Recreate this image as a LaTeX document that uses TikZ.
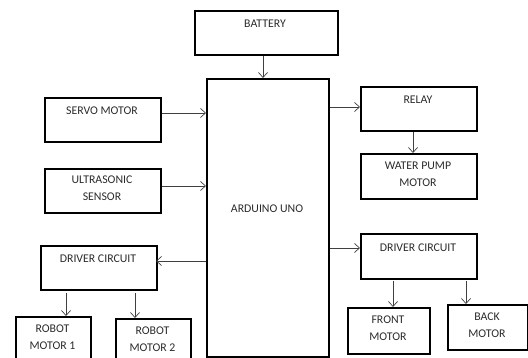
\documentclass[tikz,border=0pt]{standalone}
\usepackage{fontspec}
\setmainfont{Carlito}
\usetikzlibrary{arrows.meta}
\definecolor{txt}{HTML}{2B2B2B}
\definecolor{ln}{HTML}{404040}
\tikzset{
  box/.style={draw=black, line width=1.6pt, rectangle, inner sep=0pt, anchor=north west},
  lbl/.style={font=\fontsize{11.8}{17}\selectfont, text=txt, align=center, anchor=center, inner sep=0pt},
  conn/.style={draw=ln, line width=0.8pt, -{Straight Barb[length=5pt,width=9pt,line width=0.7pt]}}
}
\newcommand{\mybox}[5]{%
  \node[box, minimum width={(#4-#2)*1pt}, minimum height={(#5-#3)*1pt}] (#1) at (#2,#3) {};}
\begin{document}
\begin{tikzpicture}[x=1pt,y=-1pt]
\useasboundingbox (0,0) rectangle (528,358);
\clip (0,0) rectangle (528,358);
\mybox{bat}{194}{10}{337}{54}
\mybox{ard}{206}{78}{328}{356}
\mybox{servo}{44}{97}{160}{141}
\mybox{relay}{360}{86}{476}{130}
\mybox{pump}{360}{153}{476}{198}
\mybox{ultra}{44}{168}{160}{212}
\mybox{drvL}{40}{245}{156}{289}
\mybox{drvR}{360}{233}{476}{278}
\mybox{mA}{15}{316}{90}{366}
\mybox{mB}{115}{318}{190}{366}
\mybox{front}{347}{307}{429}{353}
\mybox{back}{447}{304}{527}{349}

\node[lbl] (tbat) at (265,24) {BATTERY};
\node[lbl] (tard) at (267,209) {ARDUINO UNO};
\node[lbl] (tservo) at (102,111) {SERVO MOTOR};
\node[lbl] (trelay) at (418,100) {RELAY};
\node[lbl] (tpump) at (418,174.5) {WATER PUMP\\MOTOR};
\node[lbl] (tultra) at (102,188.5) {ULTRASONIC\\SENSOR};
\node[lbl] (tdrvL) at (98,259) {DRIVER CIRCUIT};
\node[lbl] (tdrvR) at (418,248) {DRIVER CIRCUIT};
\node[lbl] (tmA) at (52.5,337.5) {ROBOT\\MOTOR 1};
\node[lbl] (tmB) at (152.5,339.5) {ROBOT\\MOTOR 2};
\node[lbl] (tfront) at (388,328.5) {FRONT\\MOTOR};
\node[lbl] (tback) at (487,325.5) {BACK\\MOTOR};

\coordinate (a1) at (263,78);
\draw[conn] (bat.south -| a1) -- (a1);
\coordinate (s1) at (206,113);
\draw[conn] (servo.east |- s1) -- (s1);
\coordinate (r1) at (360,107);
\draw[conn] (ard.east |- r1) -- (r1);
\coordinate (p1) at (413,153);
\draw[conn] (relay.south -| p1) -- (p1);
\coordinate (u1) at (206,186);
\draw[conn] (ultra.east |- u1) -- (u1);
\coordinate (dl) at (156,261);
\draw[conn] (ard.west |- dl) -- (dl);
\coordinate (dr) at (360,248);
\draw[conn] (ard.east |- dr) -- (dr);
\coordinate (ma0) at (66,293);
\draw[conn] (ma0) -- (mA.north -| ma0);
\coordinate (mb0) at (135,293);
\draw[conn] (mb0) -- (mB.north -| mb0);
\coordinate (f0) at (393,281);
\draw[conn] (f0) -- (front.north -| f0);
\coordinate (b0) at (466,281);
\draw[conn] (b0) -- (back.north -| b0);
\end{tikzpicture}
\end{document}
